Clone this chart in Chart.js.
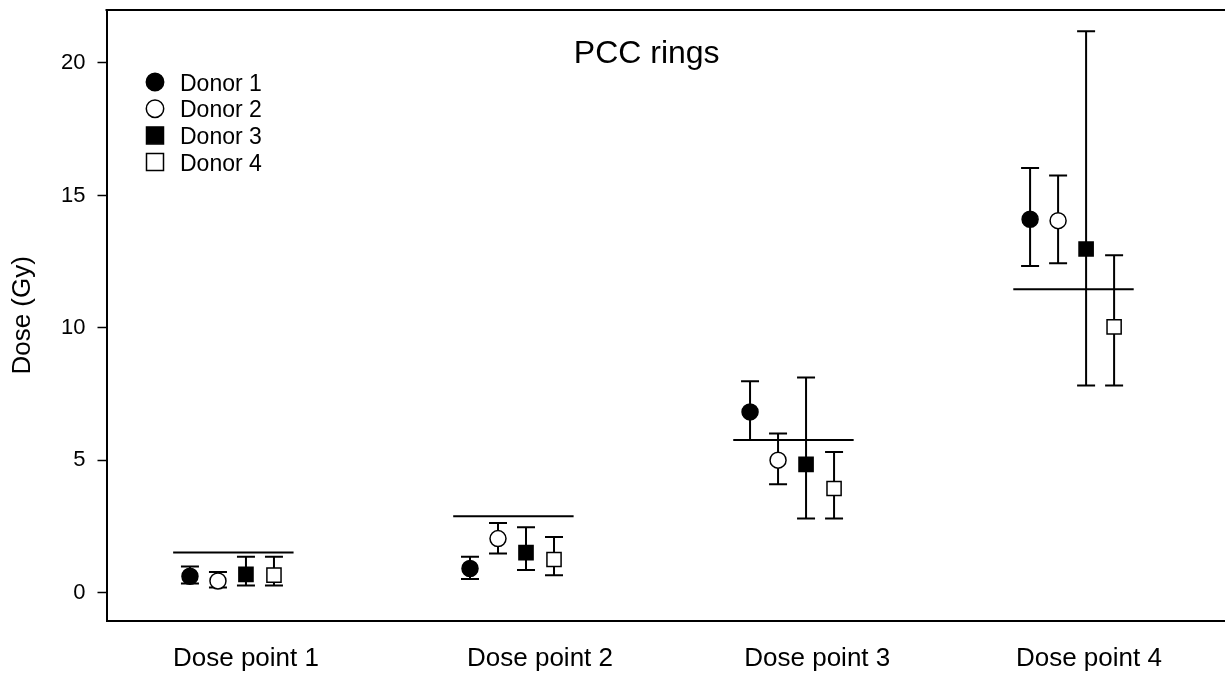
<!DOCTYPE html>
<html><head><meta charset="utf-8">
<script src="https://cdn.jsdelivr.net/npm/chart.js@4.4.1/dist/chart.umd.min.js"></script>
<style>html,body{margin:0;padding:0;background:#fff;}#wrap{width:1225px;height:675px;}</style>
</head><body><div id="wrap"><canvas id="c" width="1225" height="675"></canvas></div>
<script>
const categories = ['Dose point 1', 'Dose point 2', 'Dose point 3', 'Dose point 4'];
const groupX = [1, 2, 3, 4];
const categoryTickPositions = [1.05, 2.10, 3.09, 4.06];
const donorNames = ['Donor 1', 'Donor 2', 'Donor 3', 'Donor 4'];
const donorOffsets = [-0.15, -0.05, 0.05, 0.15];

const donor1 = [0.63, 0.92, 6.83, 14.10];
const donor1Low = [0.35, 0.52, 5.77, 12.34];
const donor1High = [1.00, 1.36, 7.99, 16.04];

const donor2 = [0.45, 2.05, 5.01, 14.05];
const donor2Low = [0.20, 1.49, 4.10, 12.44];
const donor2High = [0.79, 2.64, 6.02, 15.75];

const donor3 = [0.70, 1.52, 4.85, 12.98];
const donor3Low = [0.28, 0.86, 2.81, 7.83];
const donor3High = [1.36, 2.48, 8.13, 21.20];

const donor4 = [0.67, 1.26, 3.94, 10.04];
const donor4Low = [0.28, 0.67, 2.81, 7.83];
const donor4High = [1.36, 2.11, 5.32, 12.74];

const meanDose = [1.52, 2.89, 5.77, 11.46];
const yTicks = [0, 5, 10, 15, 20];

const FONT = '"Liberation Sans", Arial, Helvetica, sans-serif';

const donors = [
  {name: donorNames[0], v: donor1, lo: donor1Low, hi: donor1High, style: 'circle', fill: '#000'},
  {name: donorNames[1], v: donor2, lo: donor2Low, hi: donor2High, style: 'circle', fill: '#fff'},
  {name: donorNames[2], v: donor3, lo: donor3Low, hi: donor3High, style: 'rect', fill: '#000'},
  {name: donorNames[3], v: donor4, lo: donor4Low, hi: donor4High, style: 'rect', fill: '#fff'}
];

const datasets = donors.map((d, i) => ({
  label: d.name,
  data: d.v.map((val, j) => ({x: groupX[j] + donorOffsets[i], y: val})),
  pointStyle: d.style,
  pointRadius: d.style === 'circle' ? 8 : 10,
  pointHoverRadius: d.style === 'circle' ? 8 : 10,
  backgroundColor: d.fill,
  borderColor: '#000',
  pointBorderWidth: 1.5,
  showLine: false,
  order: 1
}));
meanDose.forEach((m, j) => {
  datasets.push({
    label: 'mean ' + categories[j],
    data: [{x: groupX[j] - 0.21, y: m}, {x: groupX[j] + 0.22, y: m}],
    showLine: true,
    borderColor: '#000',
    borderWidth: 2,
    pointRadius: 0,
    pointHoverRadius: 0,
    order: 5
  });
});

const errorBars = {
  id: 'errorBars',
  beforeDatasetsDraw(chart) {
    const {ctx, scales: {x, y}} = chart;
    ctx.save();
    ctx.strokeStyle = '#000';
    ctx.lineWidth = 2;
    donors.forEach((d, i) => {
      d.v.forEach((val, j) => {
        const px = x.getPixelForValue(groupX[j] + donorOffsets[i]);
        const pl = y.getPixelForValue(d.lo[j]);
        const ph = y.getPixelForValue(d.hi[j]);
        ctx.beginPath();
        ctx.moveTo(px, pl); ctx.lineTo(px, ph);
        ctx.moveTo(px - 9, pl); ctx.lineTo(px + 9, pl);
        ctx.moveTo(px - 9, ph); ctx.lineTo(px + 9, ph);
        ctx.stroke();
      });
    });
    ctx.restore();
  }
};

const decorations = {
  id: 'decorations',
  afterDraw(chart) {
    const {ctx, chartArea} = chart;
    ctx.save();
    ctx.strokeStyle = '#000';
    ctx.lineWidth = 2;
    ctx.beginPath();
    ctx.moveTo(chartArea.left - 1, chartArea.top);
    ctx.lineTo(chart.width, chartArea.top);
    ctx.stroke();
    ctx.fillStyle = '#000';
    ctx.font = '32px ' + FONT;
    ctx.textAlign = 'center';
    ctx.textBaseline = 'alphabetic';
    ctx.fillText('PCC rings', 646.7, 63.3);
    ctx.font = '23px ' + FONT;
    ctx.textAlign = 'left';
    donors.forEach((d, i) => {
      const base = 90.7 + i * 26.7;
      const cy = base - 8.7;
      const cx = 155;
      ctx.fillStyle = d.fill;
      ctx.strokeStyle = '#000';
      ctx.lineWidth = 1.5;
      ctx.beginPath();
      if (d.style === 'circle') ctx.arc(cx, cy, 8.7, 0, Math.PI * 2);
      else ctx.rect(cx - 8.5, cy - 8.5, 17, 17);
      ctx.fill(); ctx.stroke();
      ctx.fillStyle = '#000';
      ctx.fillText(d.name, 180, base);
    });
    ctx.restore();
  }
};

function noPad(s) { s.paddingTop = 0; s.paddingBottom = 0; s.paddingLeft = 0; s.paddingRight = 0; }

new Chart(document.getElementById('c'), {
  type: 'scatter',
  data: {datasets},
  options: {
    responsive: false,
    animation: false,
    events: [],
    layout: {autoPadding: false, padding: {top: 10, right: 0, left: 0, bottom: 0}},
    plugins: {legend: {display: false}, tooltip: {enabled: false}, title: {display: false}},
    scales: {
      x: {
        type: 'linear',
        position: 'bottom',
        min: 0.552,
        max: 4.546,
        afterFit(s) { s.height = 54.3; noPad(s); },
        afterBuildTicks(s) { s.ticks = categoryTickPositions.map(v => ({value: v})); },
        grid: {display: false, drawTicks: false},
        border: {display: true, color: '#000', width: 2},
        ticks: {
          autoSkip: false, maxRotation: 0, minRotation: 0,
          color: '#000', padding: 23,
          font: {family: FONT, size: 26},
          callback: (v, idx) => categories[idx]
        }
      },
      y: {
        type: 'linear',
        min: -1.05,
        max: 22,
        afterFit(s) { s.width = 106.5; noPad(s); },
        afterBuildTicks(s) { s.ticks = yTicks.map(v => ({value: v})); },
        grid: {drawOnChartArea: false, drawTicks: true, tickLength: 9, tickColor: '#000', tickWidth: 1.5},
        border: {display: true, color: '#000', width: 2},
        ticks: {color: '#000', padding: 12, font: {family: FONT, size: 22}},
        title: {display: true, text: 'Dose (Gy)', color: '#000', font: {family: FONT, size: 26}, padding: {top: 7, bottom: 0}}
      }
    }
  },
  plugins: [errorBars, decorations]
});
</script>
</body></html>
